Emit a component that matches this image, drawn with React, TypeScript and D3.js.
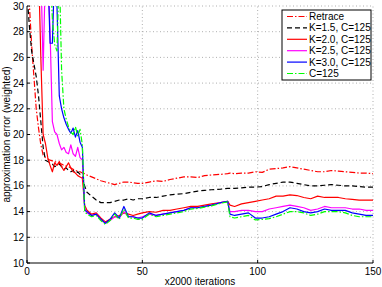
import React, { useEffect, useRef } from 'react';
import * as d3 from 'd3';

// x positions (units of 2000 iterations)
const xs = [
  0, 1, 2, 3, 4, 5, 6, 7, 8, 9, 10, 11, 12, 13, 14, 15, 16, 17, 18, 19, 20, 21, 22, 23, 24, 25, 26,
  28, 30, 32, 34, 36, 38, 40, 42, 44, 46, 48, 50,
  53, 56, 59, 62, 65, 68, 71, 74, 77, 80,
  84, 87, 88, 90,
  93, 96, 99, 102, 105, 108, 111, 114, 117, 120, 123, 126, 129, 132, 135, 138, 141, 144, 147, 150,
];

const retrace = [
  34, 30.2, 27, 24.5, 22, 20.5, 19.2, 18.4, 18.2, 18.1, 18.0, 17.95, 17.9, 17.8, 17.75, 17.7, 17.6, 17.55, 17.5, 17.4, 17.3, 17.2, 17.15, 17.1, 17.0, 16.95, 16.85,
  16.7, 16.55, 16.4, 16.3, 16.2, 16.1, 16.2, 16.3, 16.3, 16.25, 16.2, 16.2,
  16.3, 16.4, 16.35, 16.5, 16.6, 16.7, 16.7, 16.65, 16.8, 16.85,
  16.9, 16.95, 17.0, 16.95,
  17.0, 17.0, 17.1, 17.05, 17.3, 17.35, 17.4, 17.5, 17.4, 17.3, 17.2, 17.1, 17.1, 17.2, 17.15, 17.1, 17.05, 17.0, 17.0, 16.95,
];

const k15 = [
  31, 28.5, 26.5, 25.5, 24.5, 23.0, 21.0, 19.0, 18.0, 17.9, 17.8, 17.7, 17.5, 17.6, 17.7, 17.5, 17.3, 17.4, 17.2, 17.1, 17.2, 17.0, 17.1, 16.9, 16.8, 16.0, 15.5,
  15.2, 14.9, 14.7, 14.7, 14.7, 14.8, 14.9, 14.9, 15.0, 14.9, 15.0, 15.0,
  15.1, 15.1, 15.2, 15.3, 15.35, 15.4, 15.5, 15.6, 15.65, 15.7,
  15.75, 15.8, 15.8, 15.8,
  15.85, 15.9, 15.9, 15.95, 16.1, 16.2, 16.3, 16.3, 16.2, 16.1, 16.0, 16.0, 16.05, 16.1, 16.05, 16.0, 16.0, 15.95, 15.9, 15.9,
];

const k20 = [
  33, 33, 33, 33, 33, 33, 26, 20, 19.3, 18.2, 17.6, 17.1, 17.8, 17.6, 17.9, 17.5, 17.2, 17.5, 17.8, 17.4, 17.1, 17.0, 16.8, 16.7, 16.6, 14.5, 14.1,
  13.8, 13.9, 13.5, 13.2, 13.4, 13.6, 13.7, 13.9, 13.8, 13.7, 13.8, 13.9,
  14.0, 13.95, 14.1, 14.1, 14.2, 14.3, 14.4, 14.4, 14.5, 14.6,
  14.7, 14.8, 14.5, 14.4,
  14.6, 14.7, 14.8, 14.9, 15.0, 15.2, 15.2, 15.3, 15.25, 15.1, 15.0, 15.2, 15.1, 15.1, 15.1, 15.0, 14.95, 14.9, 14.9, 14.9,
];

const k25 = [
  33, 33, 33, 33, 33, 33, 33, 25, 33, 33, 28, 21, 20.2, 20.0, 19.3, 18.8, 19.0, 18.6, 18.5, 19.2, 18.5, 18.3, 19.0, 18.2, 18.0, 14.3, 13.9,
  13.7, 13.8, 13.4, 13.1, 13.3, 13.6, 13.5, 14.0, 13.6, 13.6, 13.5, 13.6,
  13.8, 13.7, 13.8, 13.9, 14.0, 14.1, 14.3, 14.3, 14.4, 14.5,
  14.7, 14.8, 14.0, 14.0,
  14.1, 14.1, 14.0, 14.0, 14.2, 14.3, 14.4, 14.5, 14.4, 14.3, 14.1, 14.2, 14.4, 14.3, 14.3, 14.3, 14.2, 14.2, 14.1, 14.1,
];

const k30 = [
  33, 33, 33, 33, 33, 33, 33, 33, 33, 33, 27.1, 27.1, 33, 30, 23, 22, 21.3, 20.8, 20.4, 20.1, 20.5, 19.8, 20.3, 19.4, 19.0, 14.1, 14.0,
  13.7, 13.8, 13.4, 13.1, 13.4, 13.9, 13.5, 14.4, 13.6, 13.6, 13.5, 13.5,
  13.9, 13.7, 13.8, 13.9, 14.0, 14.1, 14.3, 14.3, 14.4, 14.5,
  14.7, 14.8, 13.8, 13.7,
  13.8, 13.9, 13.5, 13.5, 13.6, 13.8, 14.0, 14.3, 14.2, 14.0, 13.9, 14.0, 14.2, 14.1, 14.1, 14.1, 13.9, 13.8, 13.7, 13.7,
];

const c125 = [
  33, 33, 33, 33, 33, 33, 33, 33, 33, 33, 33, 29, 27.0, 26.5, 33, 25, 22, 21.2, 20.6, 20.2, 20.0, 20.6, 19.9, 20.4, 19.2, 14.0, 13.8,
  13.6, 13.7, 13.3, 13.0, 13.3, 13.8, 13.4, 14.2, 13.5, 13.5, 13.4, 13.4,
  13.8, 13.6, 13.7, 13.8, 13.9, 14.0, 14.2, 14.25, 14.35, 14.45,
  14.65, 14.75, 13.6, 13.5,
  13.6, 13.7, 13.35, 13.4, 13.45, 13.6, 13.8, 14.0, 14.0, 13.9, 13.7, 13.8, 14.0, 14.0, 14.0, 13.9, 13.7, 13.6, 13.6, 13.6,
];

const seriesNames = ['Retrace', 'K=1.5, C=125', 'K=2.0, C=125', 'K=2.5, C=125', 'K=3.0, C=125', 'C=125'];
const seriesValues = [retrace, k15, k20, k25, k30, c125];
const seriesColors = ['#ff0000', '#000000', '#ff0000', '#ff00ff', '#0000ff', '#00ff00'];
const seriesDash = ['6,2,1.5,2', '5,3', null, null, null, '6,2,1.5,2'];

const xTicks = [0, 50, 100, 150];
const yTicks = [10, 12, 14, 16, 18, 20, 22, 24, 26, 28, 30];

const W = 382;
const H = 287;
const margin = { left: 27, right: 9, top: 6, bottom: 24 };

const App: React.FC = () => {
  const svgRef = useRef(null);

  useEffect(() => {
    if (svgRef.current === null) {
      return;
    }
    const svg = d3.select(svgRef.current);
    svg.selectAll('*').remove();

    const x = d3.scaleLinear().domain([0, 150]).range([margin.left, W - margin.right]);
    const y = d3.scaleLinear().domain([10, 30]).range([H - margin.bottom, margin.top]);
    const font = 'Liberation Sans, Arial, sans-serif';

    svg.append('rect').attr('width', W).attr('height', H).attr('fill', '#fff');

    // grid
    const grid = svg.append('g').attr('stroke', '#9a9a9a').attr('stroke-width', 0.8).attr('stroke-dasharray', '1,2.5');
    grid
      .selectAll('line.gx')
      .data(xTicks.slice(1, -1))
      .join('line')
      .attr('x1', (d) => x(d))
      .attr('x2', (d) => x(d))
      .attr('y1', y(10))
      .attr('y2', y(30));
    grid
      .selectAll('line.gy')
      .data(yTicks.slice(1, -1))
      .join('line')
      .attr('class', 'gy')
      .attr('x1', x(0))
      .attr('x2', x(150))
      .attr('y1', (d) => y(d))
      .attr('y2', (d) => y(d));
    // right edge grid at 150 (dotted)
    grid.append('line').attr('x1', x(150)).attr('x2', x(150)).attr('y1', y(10)).attr('y2', y(30));
    grid.append('line').attr('x1', x(0)).attr('x2', x(150)).attr('y1', y(30)).attr('y2', y(30));

    svg
      .append('defs')
      .append('clipPath')
      .attr('id', 'plotclip')
      .append('rect')
      .attr('x', x(0))
      .attr('y', y(30))
      .attr('width', x(150) - x(0))
      .attr('height', y(10) - y(30));

    const line = d3
      .line<number>()
      .x((_, i) => x(xs[i]))
      .y((d) => y(d));

    const lines = svg.append('g').attr('clip-path', 'url(#plotclip)');
    seriesValues.forEach((vals, i) => {
      lines
        .append('path')
        .attr('d', line(vals))
        .attr('fill', 'none')
        .attr('stroke', seriesColors[i])
        .attr('stroke-width', 1.2)
        .attr('stroke-dasharray', seriesDash[i])
        .attr('stroke-linejoin', 'round');
    });

    // axes (left and bottom solid, ticks inside)
    const axis = svg.append('g').attr('stroke', '#000').attr('stroke-width', 1);
    axis.append('line').attr('x1', x(0)).attr('x2', x(0)).attr('y1', y(10)).attr('y2', y(30));
    axis.append('line').attr('x1', x(0)).attr('x2', x(150)).attr('y1', y(10)).attr('y2', y(10));
    axis
      .selectAll('line.ty')
      .data(yTicks)
      .join('line')
      .attr('x1', x(0))
      .attr('x2', x(0) + 3)
      .attr('y1', (d) => y(d))
      .attr('y2', (d) => y(d));
    axis
      .selectAll('line.tx')
      .data(xTicks)
      .join('line')
      .attr('x1', (d) => x(d))
      .attr('x2', (d) => x(d))
      .attr('y1', y(10))
      .attr('y2', y(10) - 3);

    const labels = svg.append('g').style('font', `10px ${font}`).attr('fill', '#000');
    labels
      .selectAll('text.yl')
      .data(yTicks)
      .join('text')
      .attr('x', x(0) - 3)
      .attr('y', (d) => y(d) + 3.5)
      .attr('text-anchor', 'end')
      .text((d) => d);
    labels
      .selectAll('text.xl')
      .data(xTicks)
      .join('text')
      .attr('class', 'xl')
      .attr('x', (d) => x(d))
      .attr('y', y(10) + 12)
      .attr('text-anchor', 'middle')
      .text((d) => d);
    labels
      .append('text')
      .attr('x', (x(0) + x(150)) / 2)
      .attr('y', H - 2)
      .attr('text-anchor', 'middle')
      .text('x2000 iterations');
    labels
      .append('text')
      .attr('transform', `translate(10,${(y(10) + y(30)) / 2}) rotate(-90)`)
      .attr('text-anchor', 'middle')
      .text('approximation error (weighted)');

    // legend
    const lg = svg.append('g').attr('transform', 'translate(282,10)');
    lg.append('rect').attr('width', 89).attr('height', 70).attr('fill', '#fff').attr('stroke', '#000').attr('stroke-width', 1);
    seriesNames.forEach((name, i) => {
      const ly = 6.5 + i * 11.4;
      lg.append('line')
        .attr('x1', 5)
        .attr('x2', 25)
        .attr('y1', ly)
        .attr('y2', ly)
        .attr('stroke', seriesColors[i])
        .attr('stroke-width', 1.2)
        .attr('stroke-dasharray', seriesDash[i]);
      lg.append('text')
        .attr('x', 27)
        .attr('y', ly + 3.5)
        .style('font', `10px ${font}`)
        .text(name);
    });
  }, []);

  return <svg ref={svgRef} width={W} height={H} style={{ position: 'absolute', left: 0, top: 0 }}></svg>;
};

export default App;
